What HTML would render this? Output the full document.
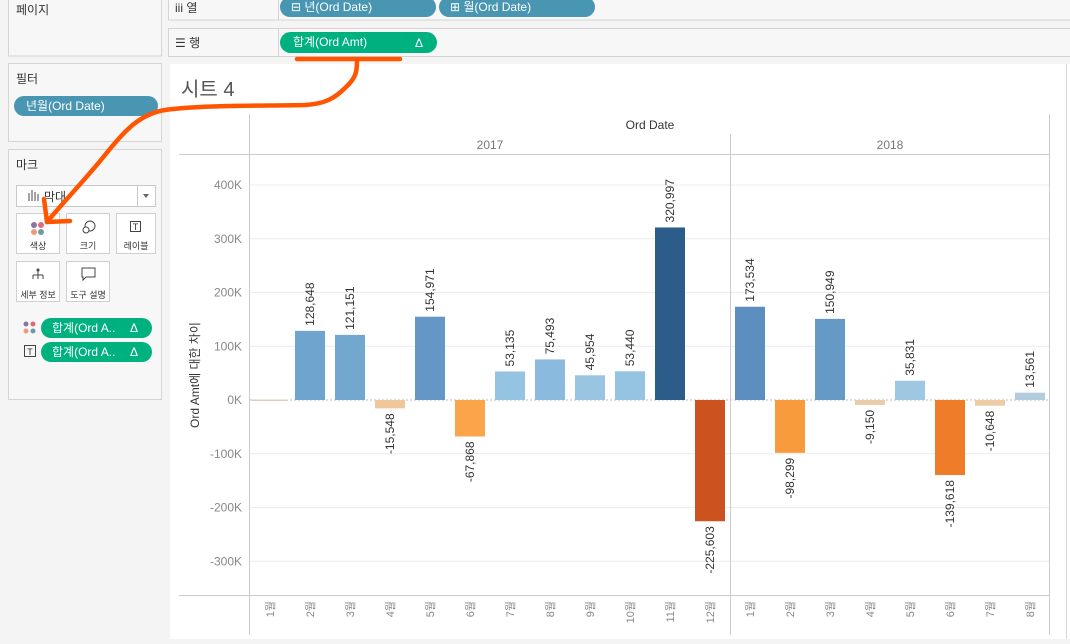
<!DOCTYPE html>
<html><head><meta charset="utf-8">
<style>
body{margin:0;width:1070px;height:639px;overflow:hidden;background:#f4f4f4;font-family:"Liberation Sans","Noto Sans CJK KR",sans-serif;}
svg text{font-family:"Liberation Sans","Noto Sans CJK KR",sans-serif;}
</style></head>
<body>
<svg id="root" width="1070" height="639" viewBox="0 0 1070 639" xmlns="http://www.w3.org/2000/svg">
  <rect x="0" y="0" width="168" height="639" fill="#f4f4f4"/>
  <rect x="8.5" y="-1" width="153" height="57" fill="#f7f7f7" stroke="#d4d4d4"/>
  <text x="16" y="14" font-size="12" fill="#333">페이지</text>
  <rect x="8.5" y="63.5" width="153" height="78" fill="#f7f7f7" stroke="#d4d4d4"/>
  <text x="16" y="83" font-size="12" fill="#333">필터</text>
  <rect x="14" y="96" width="144" height="20" rx="10" fill="#4996b2"/>
  <text x="26" y="110" font-size="12" fill="#fff">년월(Ord Date)</text>
  <rect x="8.5" y="149.5" width="153" height="250" fill="#f7f7f7" stroke="#d4d4d4"/>
  <text x="16" y="169" font-size="12" fill="#333">마크</text>
  <rect x="16.5" y="185.5" width="139" height="21" fill="#fff" stroke="#c8c8c8"/>
  <line x1="137.5" y1="186" x2="137.5" y2="206" stroke="#c8c8c8"/>
  <path d="M143 194 L149 194 L146 198 Z" fill="#666"/>
  <g stroke="#444" stroke-width="1"><line x1="29" y1="193" x2="29" y2="201"/><line x1="32" y1="190" x2="32" y2="201"/><line x1="35" y1="192" x2="35" y2="201"/><line x1="38" y1="194" x2="38" y2="201"/></g>
  <text x="44" y="201" font-size="12" fill="#333">막대</text>
  <g><rect x="16.5" y="213.5" width="43" height="40" fill="#fff" stroke="#d0d0d0"/>
    <circle cx="34" cy="225" r="3" fill="#8a74a0"/><circle cx="41" cy="225" r="3" fill="#e06a7a"/><circle cx="34" cy="232" r="3" fill="#eb9c78"/><circle cx="41" cy="232" r="3" fill="#6e9aa8"/>
    <text x="38" y="249" font-size="9" fill="#333" text-anchor="middle">색상</text></g>
  <g><rect x="66.5" y="213.5" width="43" height="40" fill="#fff" stroke="#d0d0d0"/>
    <circle cx="90" cy="226" r="5" fill="none" stroke="#444"/><circle cx="86" cy="230" r="3" fill="#fff" stroke="#444"/>
    <text x="88" y="249" font-size="9" fill="#333" text-anchor="middle">크기</text></g>
  <g><rect x="116.5" y="213.5" width="39" height="40" fill="#fff" stroke="#d0d0d0"/>
    <rect x="130.5" y="221.5" width="10" height="10" fill="none" stroke="#444"/><text x="135.5" y="230" font-size="9" fill="#333" text-anchor="middle">T</text>
    <text x="136" y="249" font-size="9" fill="#333" text-anchor="middle">레이블</text></g>
  <g><rect x="16.5" y="261.5" width="43" height="40" fill="#fff" stroke="#d0d0d0"/>
    <circle cx="38" cy="270" r="1.5" fill="#444"/><path d="M38 271 V275 M33 275 H43 M33 275 V279 M38 275 V279 M43 275 V279" stroke="#444" fill="none"/>
    <text x="38" y="298" font-size="9" fill="#333" text-anchor="middle">세부 정보</text></g>
  <g><rect x="66.5" y="261.5" width="43" height="40" fill="#fff" stroke="#d0d0d0"/>
    <path d="M82 268 H95 V277 H86 L83 280 V277 H82 Z" fill="none" stroke="#444"/>
    <text x="88" y="298" font-size="9" fill="#333" text-anchor="middle">도구 설명</text></g>
  <circle cx="26" cy="324" r="2.5" fill="#8a74a0"/><circle cx="33" cy="324" r="2.5" fill="#e06a7a"/><circle cx="26" cy="331" r="2.5" fill="#eb9c78"/><circle cx="33" cy="331" r="2.5" fill="#6e9aa8"/>
  <rect x="41" y="318" width="111" height="20" rx="10" fill="#00b180"/>
  <text x="52" y="332" font-size="12" fill="#fff">합계(Ord A..</text><text x="130" y="332" font-size="12" fill="#fff">Δ</text>
  <rect x="24.5" y="345.5" width="11" height="11" fill="none" stroke="#444"/><text x="30" y="355" font-size="9" fill="#333" text-anchor="middle">T</text>
  <rect x="41" y="342" width="111" height="20" rx="10" fill="#00b180"/>
  <text x="52" y="356" font-size="12" fill="#fff">합계(Ord A..</text><text x="130" y="356" font-size="12" fill="#fff">Δ</text>

  <rect x="168.5" y="-1" width="902" height="21" fill="#f7f7f7" stroke="#d4d4d4"/>
  <line x1="278.5" y1="0" x2="278.5" y2="20" stroke="#d4d4d4"/>
  <text x="175" y="12" font-size="12" fill="#333">iii  열</text>
  <rect x="280" y="-3" width="156" height="20" rx="10" fill="#4996b2"/>
  <text x="291" y="11" font-size="12" fill="#fff">⊟ 년(Ord Date)</text>
  <rect x="439" y="-3" width="156" height="20" rx="10" fill="#4996b2"/>
  <text x="450" y="11" font-size="12" fill="#fff">⊞ 월(Ord Date)</text>
  <rect x="168.5" y="28.5" width="902" height="28" fill="#f7f7f7" stroke="#d4d4d4"/>
  <line x1="278.5" y1="29" x2="278.5" y2="56" stroke="#d4d4d4"/>
  <text x="175" y="47" font-size="12" fill="#333">☰  행</text>
  <rect x="280" y="32" width="157" height="21" rx="10.5" fill="#00b180"/>
  <text x="293" y="46" font-size="12" fill="#fff">합계(Ord Amt)</text><text x="415" y="47" font-size="12" fill="#fff">Δ</text>

  <rect x="170" y="64" width="900" height="575" fill="#fff"/>
  <line x1="1066.5" y1="64" x2="1066.5" y2="639" stroke="#d8d8d8"/>
  <text x="181" y="96" font-size="20" fill="#555">시트 4</text>
  <text x="650" y="129" font-size="12" fill="#333" text-anchor="middle">Ord Date</text>
  <g id="chart"></g>

  <g fill="none" stroke="#ff5500" stroke-width="4.5" stroke-linecap="round" stroke-linejoin="round">
    <line x1="297" y1="59" x2="400" y2="59"/>
    <path d="M357 61 C357 72 356 78 345 88 C335 98 325 104 305 105 C260 106 200 105 165 110 C140 114 125 130 105 155 C85 180 65 200 47 222"/>
    <path d="M44 199 L47 222 L70 221"/>
  </g>
</svg>
<script>
const years = ["2017","2018"];
const months2017 = ["1월","2월","3월","4월","5월","6월","7월","8월","9월","10월","11월","12월"];
const months2018 = ["1월","2월","3월","4월","5월","6월","7월","8월"];
const values2017 = [null,128648,121151,-15548,154971,-67868,53135,75493,45954,53440,320997,-225603];
const values2018 = [173534,-98299,150949,-9150,35831,-139618,-10648,13561];
const yTicks = [400000,300000,200000,100000,0,-100000,-200000,-300000];
const yTickLabels = ["400K","300K","200K","100K","0K","-100K","-200K","-300K"];

const NS="http://www.w3.org/2000/svg";
const g=document.getElementById('chart');
const zeroY=400, pxPer=53.75/100000;
function y(v){return zeroY - v*pxPer;}
const colW=40, barW=30;
const paneX={"2017":250,"2018":730};
function x(year,i){return paneX[year]+colW*i+colW/2;}
function mk(tag,attrs){const e=document.createElementNS(NS,tag);for(const k in attrs)e.setAttribute(k,attrs[k]);g.appendChild(e);return e;}
function mix(a,b,t){const p=s=>[1,3,5].map(i=>parseInt(s.substr(i,2),16));const A=p(a),B=p(b);return "rgb("+A.map((c,i)=>Math.round(c+(B[i]-c)*t)).join(",")+")";}
function ramp(stops,t){for(let i=1;i<stops.length;i++){if(t<=stops[i][0]){const a=stops[i-1],b=stops[i];return mix(a[1],b[1],(t-a[0])/(b[0]-a[0]));}}return stops[stops.length-1][1];}
const posStops=[[0,"#bccfda"],[0.12,"#9cc6e2"],[0.2,"#90c0e2"],[0.4,"#6ea4cd"],[0.55,"#5b8dbf"],[1,"#2b5c8a"]];
const negStops=[[0,"#e6d4bc"],[0.07,"#efc79a"],[0.3,"#fba54a"],[0.45,"#f89a3a"],[0.62,"#ee7c28"],[1,"#cc5220"]];
function color(v){
  if(v>=0) return ramp(posStops,Math.min(1,v/320997));
  return ramp(negStops,Math.min(1,-v/225603));
}
yTicks.forEach((v,i)=>{
  const l=mk('line',{x1:250,x2:1049,y1:y(v),y2:y(v),stroke:v===0?"#bbb":"#ececec","stroke-dasharray":v===0?"2,2":"none"});
  
  
  const t=mk('text',{x:242,y:y(v)+4,"font-size":12,fill:"#888","text-anchor":"end"});
  t.textContent=yTickLabels[i];
  
  
});
mk('line',{x1:179,x2:1049,y1:154.5,y2:154.5,stroke:"#ccc"});
mk('line',{x1:179,x2:1049,y1:595.5,y2:595.5,stroke:"#ccc"});
mk('line',{x1:249.5,x2:249.5,y1:114,y2:635,stroke:"#ccc"});
mk('line',{x1:730.5,x2:730.5,y1:134,y2:635,stroke:"#ccc"});
mk('line',{x1:1049.5,x2:1049.5,y1:114,y2:635,stroke:"#ccc"});
const yt=mk('text',{transform:"translate(199,375) rotate(-90)","font-size":12,fill:"#333","text-anchor":"middle"});
yt.textContent="Ord Amt에 대한 차이";


function fmt(v){return v.toLocaleString('en-US');}
function drawPane(year,months,vals){
  const paneW=colW*months.length;
  const h=mk('text',{x:paneX[year]+paneW/2,y:149,"font-size":12,fill:"#777","text-anchor":"middle"});
  h.textContent=year;
  
  
  months.forEach((m,i)=>{
    const cx=x(year,i);
    const ml=mk('text',{transform:`translate(${cx+4},601) rotate(-90)`,"font-size":11,fill:"#888","text-anchor":"end"});
    ml.textContent=m;
    
    
    const v=vals[i];
    if(v===null){
      const z=mk('rect',{x:cx-barW/2-3,y:zeroY-0.5,width:barW+6,height:1.5,fill:"#ddd0b8"});
      
      
      return;
    }
    const top=Math.min(y(v),zeroY), hgt=Math.abs(y(v)-zeroY);
    const b=mk('rect',{x:cx-barW/2,y:top,width:barW,height:hgt,fill:color(v)});
    
    
    const lbl=v>=0?mk('text',{transform:`translate(${cx+4},${y(v)-5}) rotate(-90)`,"font-size":12,fill:"#333","text-anchor":"start"})
                 :mk('text',{transform:`translate(${cx+4},${y(v)+5}) rotate(-90)`,"font-size":12,fill:"#333","text-anchor":"end"});
    lbl.textContent=fmt(v);
    
    
  });
}
drawPane("2017",months2017,values2017);
drawPane("2018",months2018,values2018);
</script>
</body></html>
